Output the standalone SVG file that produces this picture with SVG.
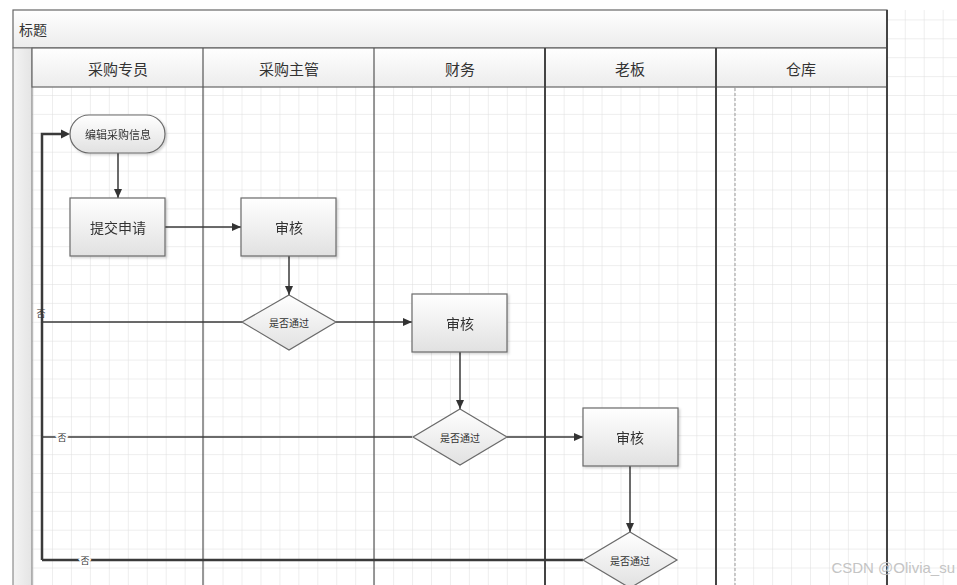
<svg xmlns="http://www.w3.org/2000/svg" width="957" height="585" viewBox="0 0 957 585">
<style>
.t{font-family:"Noto Sans CJK SC","Noto Sans CJK JP",sans-serif;fill:#333;text-anchor:middle;dominant-baseline:central}
.node{fill:url(#ng);stroke:#6a6a6a;stroke-width:1.2}
.lane{stroke:#555;stroke-width:1.2;fill:none}
.laneb{stroke:#444;stroke-width:2;fill:none}
.c{stroke:#3a3a3a;stroke-width:1.5;fill:none}
.cb{stroke:#3a3a3a;stroke-width:2.5;fill:none}
</style>
<defs>
<pattern id="grid" x="14.1" y="0.5" width="18.95" height="18.9" patternUnits="userSpaceOnUse">
<path d="M0 0H18.95M0 0V18.9" fill="none" stroke="#dedede" stroke-width="1"/>
</pattern>
<linearGradient id="ng" x1="0" y1="0" x2="0" y2="1">
<stop offset="0" stop-color="#ffffff"/>
<stop offset="1" stop-color="#e1e1e1"/>
</linearGradient>
<linearGradient id="hg" x1="0" y1="0" x2="0" y2="1">
<stop offset="0" stop-color="#ffffff"/>
<stop offset="1" stop-color="#ececec"/>
</linearGradient>
<linearGradient id="sg" x1="0" y1="0" x2="1" y2="0">
<stop offset="0" stop-color="#f4f4f4"/>
<stop offset="1" stop-color="#e4e4e4"/>
</linearGradient>
<marker id="ar" viewBox="0 0 10 10" refX="10" refY="5" markerWidth="9" markerHeight="8" markerUnits="userSpaceOnUse" orient="auto" preserveAspectRatio="none">
<path d="M0 0L10 5L0 10z" fill="#333"/>
</marker>
<filter id="sh" x="-10%" y="-10%" width="130%" height="130%">
<feDropShadow dx="1.5" dy="1.5" stdDeviation="1" flood-color="#000" flood-opacity="0.18"/>
</filter>
</defs>
<rect width="957" height="585" fill="#fff"/>
<rect x="13" y="10" width="944" height="575" fill="url(#grid)"/>
<g id="frame">
<rect x="13" y="10" width="874" height="38" fill="url(#hg)" stroke="#666" stroke-width="1.2"/>
<text class="t" x="19" y="29" style="text-anchor:start;font-size:14px">标题</text>
<rect x="13" y="48" width="19" height="540" fill="url(#sg)" stroke="#777" stroke-width="1"/>
<rect x="32" y="48" width="855" height="39" fill="url(#hg)" stroke="#666" stroke-width="1.2"/>
<line class="lane" x1="203" y1="48" x2="203" y2="585"/>
<line class="lane" x1="374" y1="48" x2="374" y2="585"/>
<line class="laneb" x1="545" y1="48" x2="545" y2="585"/>
<line class="laneb" x1="716" y1="48" x2="716" y2="585"/>
<line class="laneb" x1="887" y1="10" x2="887" y2="585"/>
<line x1="735" y1="88" x2="735" y2="585" stroke="#aaa" stroke-width="1.2" stroke-dasharray="3,2"/>
<text class="t" x="118" y="68" style="font-size:15px">采购专员</text>
<text class="t" x="289" y="68" style="font-size:15px">采购主管</text>
<text class="t" x="460" y="68" style="font-size:15px">财务</text>
<text class="t" x="630" y="68" style="font-size:15px">老板</text>
<text class="t" x="801" y="68" style="font-size:15px">仓库</text>
</g>
<g id="connectors">
<line class="c" x1="118" y1="153" x2="118" y2="198" marker-end="url(#ar)"/>
<line class="c" x1="165" y1="227" x2="241" y2="227" marker-end="url(#ar)"/>
<line class="c" x1="289" y1="256" x2="289" y2="295" marker-end="url(#ar)"/>
<line class="c" x1="336" y1="322" x2="412" y2="322" marker-end="url(#ar)"/>
<line class="c" x1="460" y1="352" x2="460" y2="409" marker-end="url(#ar)"/>
<line class="c" x1="507" y1="437" x2="583" y2="437" marker-end="url(#ar)"/>
<line class="c" x1="630" y1="466" x2="630" y2="532" marker-end="url(#ar)"/>
<line class="c" x1="242" y1="322" x2="42" y2="322"/>
<line class="c" x1="412" y1="437" x2="42" y2="437"/>
<line class="cb" x1="583" y1="560" x2="42" y2="560"/>
<polyline class="cb" points="42,560 42,134 62,134"/>
<path d="M61 129.5L70 134L61 138.5z" fill="#333"/>
<text class="t" x="41" y="313" style="font-size:9px">否</text>
<text class="t" x="62" y="437" style="font-size:9px" stroke="#fff" stroke-width="3" paint-order="stroke">否</text>
<text class="t" x="85" y="560" style="font-size:9px" stroke="#fff" stroke-width="3" paint-order="stroke">否</text>
</g>
<g id="n1" filter="url(#sh)"><rect class="node" x="70" y="115" width="95" height="38" rx="19"/><text class="t" x="118" y="134" style="font-size:11px">编辑采购信息</text></g>
<g id="n2" filter="url(#sh)"><rect class="node" x="70" y="198" width="95" height="58"/><text class="t" x="118" y="227" style="font-size:14px">提交申请</text></g>
<g id="n3" filter="url(#sh)"><rect class="node" x="241" y="198" width="95" height="58"/><text class="t" x="289" y="227" style="font-size:14px">审核</text></g>
<g id="d1"><path class="node" d="M289 295L336 322L289 350L242 322z"/><text class="t" x="289" y="322" style="font-size:10px">是否通过</text></g>
<g id="n4" filter="url(#sh)"><rect class="node" x="412" y="294" width="95" height="58"/><text class="t" x="460" y="323" style="font-size:14px">审核</text></g>
<g id="d2"><path class="node" d="M460 409L507 437L460 465L413 437z"/><text class="t" x="460" y="437" style="font-size:10px">是否通过</text></g>
<g id="n5" filter="url(#sh)"><rect class="node" x="583" y="408" width="95" height="58"/><text class="t" x="630" y="437" style="font-size:14px">审核</text></g>
<g id="d3"><path class="node" d="M630 532L677 560L630 588L583 560z"/><text class="t" x="630" y="560" style="font-size:10px">是否通过</text></g>
<text x="955" y="573" style="font-family:'Liberation Sans',sans-serif;font-size:15px;fill:#c4c4c4;text-anchor:end">CSDN @Olivia_su</text>
</svg>
